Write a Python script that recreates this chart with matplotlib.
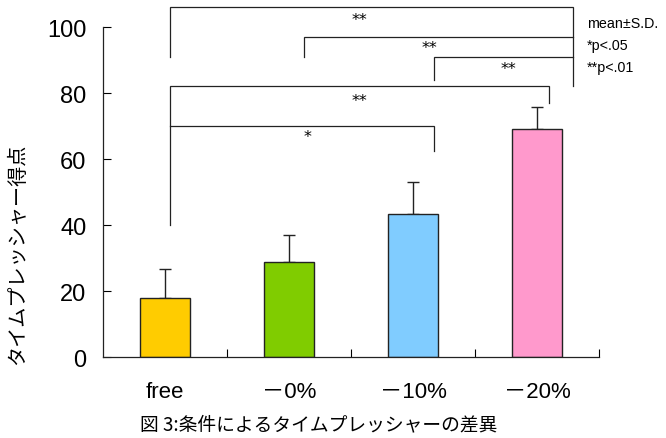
import matplotlib
matplotlib.use("Agg")
import matplotlib.pyplot as plt

plt.rcParams['font.family'] = ['Liberation Sans', 'Noto Sans CJK JP', 'DejaVu Sans']

# ----------------------------------------------------------------
#  Data
# ----------------------------------------------------------------
conditions = ["free", "－0%", "－10%", "－20%"]
means = [18.0, 28.8, 43.3, 69.1]
sds = [8.7, 8.2, 9.7, 6.6]
bar_colors = ["#FFCC00", "#80CC00", "#80CCFF", "#FF99CC"]

# significance brackets: (x_left, y_left_end, y_top, x_right, y_right_end, label, label_x, label_y)
brackets = [
    (0.04, 91, 106, 3.29, 82, "**", 1.57, 102.3),
    (1.12, 91, 97, 3.29, 97, "**", 2.13, 93.8),
    (2.17, 84, 91, 3.29, 91, "**", 2.77, 87.3),
    (0.04, 40, 82, 3.10, 77, "**", 1.57, 77.8),
    (0.04, 70, 70, 2.17, 62.4, "*", 1.15, 66.8),
]
legend_lines = ["mean±S.D.", "*p<.05", "**p<.01"]

# ----------------------------------------------------------------
#  Figure
# ----------------------------------------------------------------
fig = plt.figure(figsize=(6.66, 4.39), dpi=100)
ax = fig.add_axes([0.1547, 0.1845, 0.7447, 0.7517])

x = list(range(len(conditions)))
ax.bar(x, means, width=0.4, color=bar_colors, edgecolor="#222222", linewidth=1.0, zorder=2)
ax.errorbar(x, means, yerr=[[0] * len(sds), sds], fmt="none", ecolor="#222222",
            elinewidth=1.0, capsize=4.5, capthick=1.0, zorder=1)

for xl, yl, yt, xr, yr, lab, lx, ly in brackets:
    ax.plot([xl, xl, xr, xr], [yl, yt, yt, yr], color="#222222", lw=0.9,
            clip_on=False, solid_joinstyle="miter")
    ax.text(lx, ly, lab, ha="center", va="center", fontsize=11.5, family="DejaVu Sans")

for i, line in enumerate(legend_lines):
    ax.text(3.40, 101.2 - i * 6.6, line, ha="left", va="center", fontsize=10.3, clip_on=False)

ax.set_xlim(-0.5, 3.5)
ax.set_ylim(0, 100)
ax.set_yticks([0, 20, 40, 60, 80, 100])
ax.tick_params(axis="y", direction="in", length=6, width=0.8, labelsize=17, pad=12)

# category boundaries carry the ticks, labels sit at the centres
ax.set_xticks([0.5, 1.5, 2.5, 3.5])
ax.set_xticklabels([])
ax.set_xticks(x, minor=True)
ax.set_xticklabels(conditions, minor=True)
ax.tick_params(axis="x", which="major", direction="in", length=6, width=0.8)
ax.tick_params(axis="x", which="minor", length=0, labelsize=16, pad=17)

for side in ["top", "right"]:
    ax.spines[side].set_visible(False)
for side in ["left", "bottom"]:
    ax.spines[side].set_linewidth(0.9)
    ax.spines[side].set_color("#222222")

fig.text(0.027, 0.42, "タイムプレッシャー得点", rotation=90, ha="center", va="center",
         fontsize=14.5, family="Noto Sans CJK JP")
fig.text(0.478, 0.032, "図 3:条件によるタイムプレッシャーの差異", ha="center", va="center",
         fontsize=13.5, family="Noto Sans CJK JP")

fig.savefig("out.png", dpi=100)
